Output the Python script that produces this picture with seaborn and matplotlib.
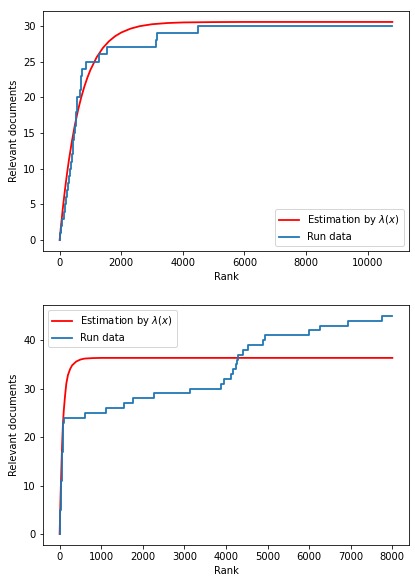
import numpy as np
import pandas as pd
import seaborn as sns
import matplotlib
matplotlib.use('Agg')
import matplotlib.pyplot as plt

# ---- top run: ranks where each relevant document was found
top_ranks = [20, 50, 90, 130, 165, 200, 240, 280, 310, 345, 380, 400, 420, 445,
             470, 500, 530, 540, 548, 555, 650, 680, 705, 740, 860, 1290, 1530,
             3140, 3170, 4490]
top_end = 10800
# estimation curve
top_est_x = [0, 50, 100, 150, 200, 250, 300, 400, 500, 600, 700, 800, 900, 1000,
             1200, 1400, 1600, 1800, 2000, 2300, 2600, 3000, 3500, 4000, 5000,
             6000, 8000, 10800]
top_est_y = [0, 2.23, 4.30, 6.21, 7.99, 9.63, 11.16, 13.88, 16.23, 18.24, 19.97,
             21.46, 22.74, 23.84, 25.59, 26.89, 27.84, 28.55, 29.07, 29.61, 29.96,
             30.23, 30.40, 30.48, 30.53, 30.55, 30.55, 30.55]

# ---- bottom run
bot_ranks = [3, 7, 11, 15, 19, 24, 28, 31, 35, 40, 44, 47, 52, 56, 59, 63, 68, 72,
             75, 80, 84, 88, 92, 96, 600, 1120, 1540, 1760, 2260, 3130, 3890, 3950,
             4130, 4160, 4230, 4270, 4300, 4400, 4520, 4880, 4950, 6000, 6250,
             6940, 7760]
bot_end = 8000
bot_est_x = [0, 20, 40, 60, 80, 100, 130, 160, 200, 250, 300, 400, 500, 600, 800,
             1000, 2000, 4000, 8000]
bot_est_y = [0, 7.0, 13.0, 18.5, 22.8, 25.5, 28.5, 31.0, 32.8, 34.0, 34.8, 35.6,
             36.0, 36.2, 36.3, 36.34, 36.34, 36.34, 36.34]


def run_frame(ranks, end):
    xs = [0] + list(ranks) + [end]
    ys = [0] + list(range(1, len(ranks) + 1)) + [len(ranks)]
    return pd.DataFrame({'rank': xs, 'rel': ys})


fig, axes = plt.subplots(2, 1, figsize=(415 / 72, 581 / 72), dpi=72)
fig.subplots_adjust(left=0.1036, right=0.9855, top=0.981, bottom=0.062, hspace=0.225)

panels = [
    (axes[0], top_est_x, top_est_y, top_ranks, top_end, 'lower right'),
    (axes[1], bot_est_x, bot_est_y, bot_ranks, bot_end, 'upper left'),
]
for ax, ex, ey, ranks, end, loc in panels:
    est = pd.DataFrame({'rank': ex, 'rel': ey})
    sns.lineplot(data=est, x='rank', y='rel', ax=ax, color='red', linewidth=1.8,
                 label=r'Estimation by $\lambda(x)$', estimator=None)
    sns.lineplot(data=run_frame(ranks, end), x='rank', y='rel', ax=ax,
                 color='#1f77b4', label='Run data', estimator=None, linewidth=1.8,
                 drawstyle='steps-post', sort=False)
    ax.set_xlabel('Rank')
    ax.set_ylabel('Relevant documents')
    ax.legend(loc=loc)

axes[0].set_yticks([0, 5, 10, 15, 20, 25, 30])
axes[1].set_yticks([0, 10, 20, 30, 40])
axes[1].set_xticks(range(0, 8001, 1000))

fig.savefig('out.png', dpi=72)
